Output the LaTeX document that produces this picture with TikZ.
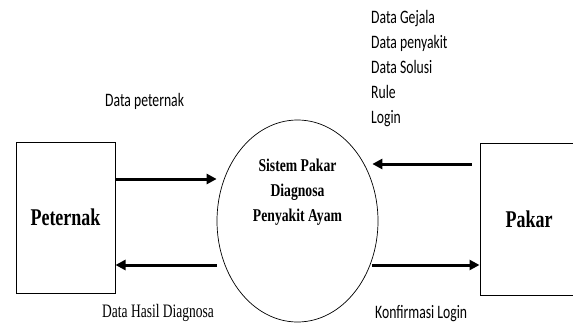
\documentclass[tikz,border=0pt]{standalone}
\usepackage{fontspec}
\usetikzlibrary{arrows.meta,shapes.geometric,calc}
\newfontfamily\boxfont[FakeStretch=0.75]{Liberation Serif}
\newfontfamily\ellfont[FakeStretch=0.76]{Liberation Serif}
\newfontfamily\lblfont[FakeStretch=0.72]{Carlito}
\newfontfamily\serlbl[FakeStretch=0.71]{Liberation Serif}
\begin{document}
\begin{tikzpicture}[x=1pt,y=-1pt,
 entity/.style={draw,line width=1pt,rectangle,inner sep=0,font=\boxfont\bfseries\fontsize{24}{28}\selectfont},
 proc/.style={draw,line width=0.7pt,ellipse,inner sep=0,minimum width=161pt,minimum height=202pt},
 proctext/.style={align=center,inner sep=0,font=\ellfont\bfseries\fontsize{18}{25}\selectfont},
 flow/.style={line width=3pt,-{Triangle[length=10pt,width=10pt]}},
 lbl/.style={font=\lblfont\fontsize{19}{24.8}\selectfont,inner sep=0,anchor=west,align=left},
 serlabel/.style={font=\serlbl\fontsize{19}{22}\selectfont,inner sep=0,anchor=west}]
\useasboundingbox[fill=white] (0,0) rectangle (573,324);
\node[entity,minimum width=99pt,minimum height=151pt] (peternak) at (65.5,217.5) {Peternak};
\node[entity,minimum width=98pt,minimum height=152pt] (pakar) at (529,219) {Pakar};
\node[proc] (sys) at (297.5,221) {};
\node[proctext] (systxt) at ([yshift=28.5pt]sys.center) {Sistem Pakar\\Diagnosa\\Penyakit Ayam};
\draw[flow] (peternak.east |- 0,179) -- (sys.west |- 0,179);
\draw[flow] (sys.west |- 0,265) -- (peternak.east |- 0,265);
\draw[flow] ($(pakar.west |- 0,164)+(-8,0)$) -- ($(sys.east |- 0,164)+(-6,0)$);
\draw[flow] ($(sys.east |- 0,265)+(-6,0)$) -- (pakar.west |- 0,265);
\node[lbl] (dp) at (105,101) {Data peternak};
\node[lbl] (dpk) at (371,68.5) {Data Gejala\\Data penyakit\\Data Solusi\\Rule\\Login};
\node[lbl] (kl) at (375,314) {Konfirmasi Login};
\node[serlabel] (dhd) at (102,313) {Data Hasil Diagnosa};
\end{tikzpicture}
\end{document}
